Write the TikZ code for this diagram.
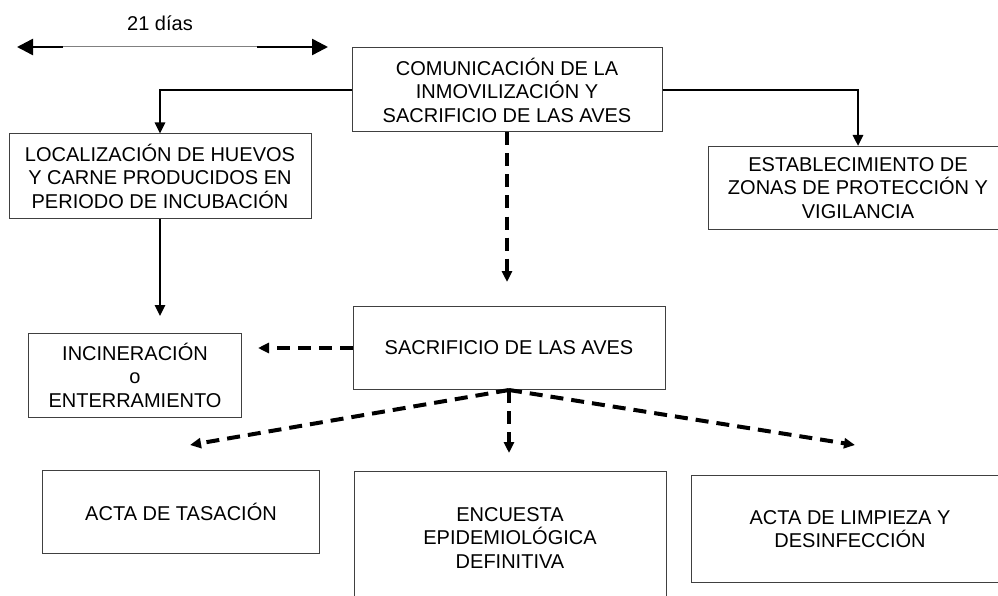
\documentclass[tikz,border=0pt]{standalone}
\usepackage{fontspec}
\setmainfont{Liberation Sans}
\usetikzlibrary{arrows.meta}
\begin{document}
\begin{tikzpicture}[x=1pt,y=-1pt,
  caja/.style={draw=black!75,line width=1pt,align=center,inner sep=0pt,
    font=\fontsize{20}{23.5}\selectfont},
  flecha/.style={line width=2.5pt,arrows={-Triangle[length=11pt,width=10pt]}},
  trazos/.style={line width=4pt,dash pattern=on 13pt off 8pt,
    arrows={-Triangle[length=11pt,width=10pt]}}]
\useasboundingbox (0,0) rectangle (998,596);

% periodo
\coordinate (d1) at (17,47);
\coordinate (d2) at (328,47);
\coordinate (d3) at (63,47);
\coordinate (d4) at (257,47);
\node (dias) at (160,23) {\fontsize{20}{23.5}\selectfont 21 días};
\draw[line width=1pt,black!50] (d3) -- (d4);
\draw[line width=2.5pt,arrows={-Triangle[length=16pt,width=16pt]}] (d3) -- (d1);
\draw[line width=2.5pt,arrows={-Triangle[length=16pt,width=16pt]}] (d4) -- (d2);

% cajas
\node[caja,minimum width=310pt,minimum height=84pt] (com) at (507,90)
  {COMUNICACIÓN DE LA\\INMOVILIZACIÓN Y\\SACRIFICIO DE LAS AVES};
\node[caja,minimum width=302pt,minimum height=84pt] (loc) at (160,176)
  {LOCALIZACIÓN DE HUEVOS\\Y CARNE PRODUCIDOS EN\\PERIODO DE INCUBACIÓN};
\node[caja,minimum width=300pt,minimum height=83pt] (est) at (858,188)
  {ESTABLECIMIENTO DE\\ZONAS DE PROTECCIÓN Y\\VIGILANCIA};
\node[caja,minimum width=312pt,minimum height=83pt] (sac) at (509,348)
  {SACRIFICIO DE LAS AVES};
\node[caja,minimum width=213pt,minimum height=84pt] (inc) at (135,375)
  {INCINERACIÓN\\o\\ENTERRAMIENTO};
\node[caja,minimum width=277pt,minimum height=83pt] (tas) at (181,512)
  {ACTA DE TASACIÓN};
\node[caja,minimum width=312pt,minimum height=134pt] (enc) at (510,538)
  {ENCUESTA\\EPIDEMIOLÓGICA\\DEFINITIVA};
\node[caja,minimum width=318pt,minimum height=107pt] (lim) at (850,529)
  {ACTA DE LIMPIEZA Y\\DESINFECCIÓN};

% extremos libres
\coordinate (f1) at (507,282);
\coordinate (f2) at (160,316);
\coordinate (f3) at (258,348);
\coordinate (f4) at (190,445);
\coordinate (f5) at (509,453);
\coordinate (f6) at (855,445);

\draw[flecha] (com.west) -| (loc.north);
\draw[flecha] (com.east) -| (est.north);
\draw[flecha] (loc.south) -- (f2);
\draw[trazos] (com.south) -- (f1);
\draw[trazos] (sac.west) -- (f3);
\draw[trazos] (sac.south) -- (f4);
\draw[trazos] (sac.south) -- (f5);
\draw[trazos] (sac.south) -- (f6);
\end{tikzpicture}
\end{document}
